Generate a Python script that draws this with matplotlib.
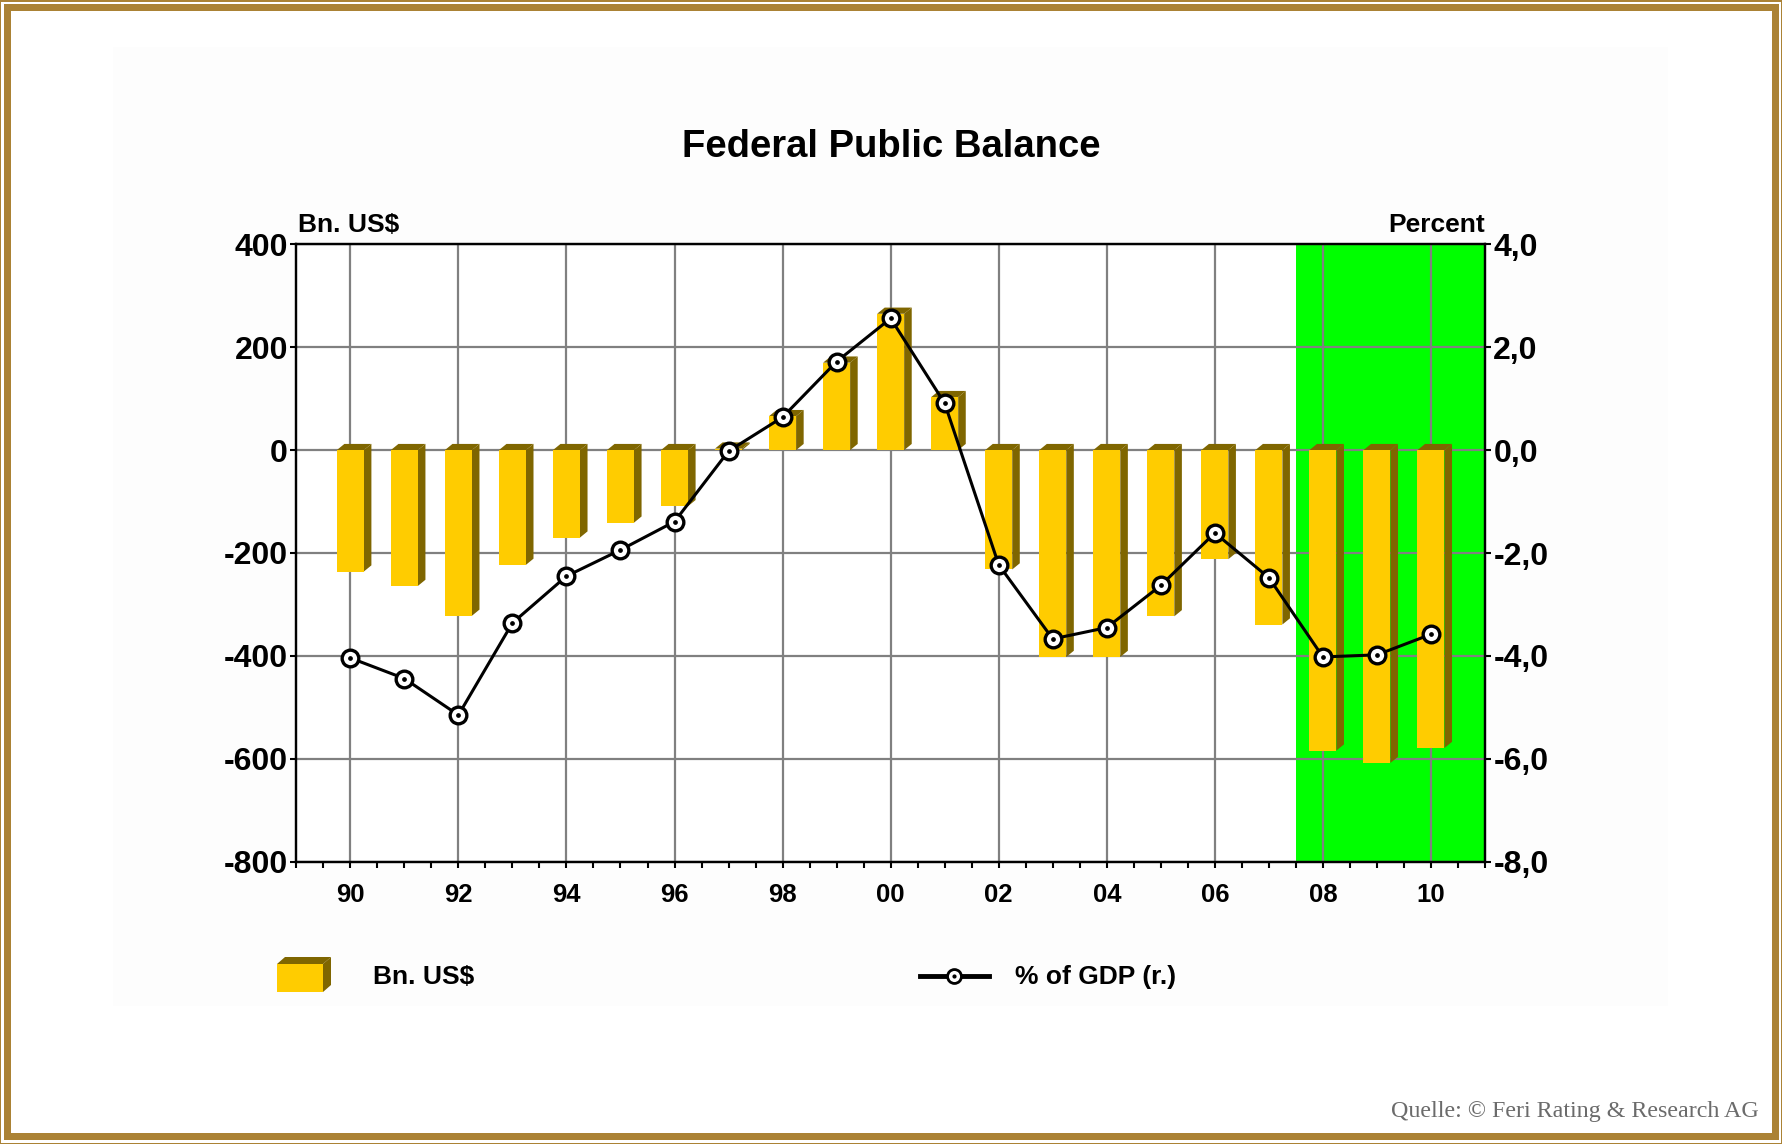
import matplotlib
matplotlib.use("Agg")
import matplotlib.pyplot as plt
from matplotlib.patches import Polygon, Rectangle
from matplotlib.lines import Line2D
from matplotlib.ticker import MultipleLocator, FixedLocator

plt.rcParams['font.family'] = ['Liberation Sans', 'DejaVu Sans']

# ---- data ----
years = list(range(1990, 2011))
bn_usd = [-236, -264, -322, -223, -170, -141, -109, 3, 66, 170, 265, 103,
          -232, -402, -402, -323, -212, -339, -584, -608, -579]
pct_gdp = [-4.04, -4.44, -5.15, -3.36, -2.45, -1.94, -1.39, -0.02, 0.64, 1.72,
           2.56, 0.91, -2.23, -3.67, -3.45, -2.63, -1.61, -2.48, -4.02, -3.98, -3.58]
left_ticks = [-800, -600, -400, -200, 0, 200, 400]
right_ticks = [-8.0, -6.0, -4.0, -2.0, 0.0, 2.0, 4.0]
forecast_start = 2007.5

title = "Federal Public Balance"
W, H = 1783, 1144

GOLD = '#AB8235'
YELLOW = '#FFCC00'
DARK = '#7F6600'
GREEN = '#00FF00'
GRID = '#808080'

fig = plt.figure(figsize=(W / 100, H / 100), dpi=100)
fig.patch.set_facecolor('white')


def fx(x):
    return x / W


def fy(y):
    return 1 - y / H


def frect(x0, y0, x1, y1, color, z=0):
    fig.patches.append(Rectangle((fx(x0), fy(y1)), fx(x1) - fx(x0), fy(y0) - fy(y1),
                                 transform=fig.transFigure, facecolor=color,
                                 edgecolor='none', zorder=z))


# border
frect(0, 0, W, H, GOLD, -10)
frect(1.5, 1.5, W - 1.5, H - 1.5, 'white', -9)
frect(4, 4, W - 4, H - 4, GOLD, -8)
frect(11, 11, W - 11, H - 11, 'white', -7)
frect(113, 47, 1668, 1006, '#FDFDFD', -6)

ax = fig.add_axes([fx(296.3), fy(861.7), fx(1485) - fx(296.3), fy(244.3) - fy(861.7)])
ax.set_facecolor('white')
xs = [y - 1990 for y in years]
ax.set_xlim(-1, 21)
ax.set_ylim(-800, 400)

ax.axvspan(forecast_start - 1990, 21, color=GREEN, zorder=0.2, lw=0)
ax.set_axisbelow(True)
ax.grid(True, which='major', color=GRID, lw=1.6)

bw = 0.5
dx, dy = 0.14, 12
ax.bar(xs, bn_usd, width=bw, color=YELLOW, zorder=3, lw=0)
for x, v in zip(xs, bn_usd):
    top = max(0, v)
    bot = min(0, v)
    r = x + bw / 2
    l = x - bw / 2
    ax.add_patch(Polygon([(r, top), (r + dx, top + dy), (r + dx, bot + dy), (r, bot)],
                         closed=True, facecolor=DARK, edgecolor='none', zorder=2.9))
    ax.add_patch(Polygon([(l, top), (l + dx, top + dy), (r + dx, top + dy), (r, top)],
                         closed=True, facecolor=DARK, edgecolor='none', zorder=2.9))

ax.set_yticks(left_ticks)
ax.set_yticklabels([str(t) for t in left_ticks], fontsize=23, fontweight='bold')
major_x = [x for x in xs if x % 2 == 0]
ax.xaxis.set_major_locator(FixedLocator(major_x))
ax.set_xticklabels([f"{(1990 + x) % 100:02d}" for x in major_x], fontsize=18.5,
                   fontweight='bold')
ax.xaxis.set_minor_locator(MultipleLocator(0.5))
ax.tick_params(axis='x', which='both', direction='out', length=4, width=1.5, pad=11)
ax.tick_params(axis='y', which='both', direction='out', length=4, width=1.5, pad=2)
for s in ax.spines.values():
    s.set_color('black')
    s.set_linewidth(1.6)

ax2 = ax.twinx()
ax2.set_ylim(-8, 4)
ax2.set_yticks(right_ticks)
ax2.set_yticklabels([f"{t:.1f}".replace('.', ',') for t in right_ticks],
                    fontsize=23, fontweight='bold')
ax2.tick_params(axis='y', direction='out', length=4, width=1.5, pad=2)
for s in ax2.spines.values():
    s.set_linewidth(1.6)
ax2.plot(xs, pct_gdp, color='black', lw=2.2, marker='o', ms=12, mfc='white',
         mec='black', mew=2.4, zorder=5)
ax2.plot(xs, pct_gdp, ls='none', marker='o', ms=2.4, color='black', zorder=6)

# texts
fig.text(fx(891), fy(147), title, ha='center', va='center', fontsize=27.5,
         fontweight='bold')
fig.text(fx(298), fy(232), "Bn. US$", ha='left', va='baseline', fontsize=19,
         fontweight='bold')
fig.text(fx(1485), fy(232), "Percent", ha='right', va='baseline', fontsize=19,
         fontweight='bold')

# legend: cube
cx0, cx1, cy0, cy1 = 277, 323, 964, 992
ox, oy = 8, 7
fig.patches.append(Polygon([(fx(cx0), fy(cy0)), (fx(cx0 + ox), fy(cy0 - oy)),
                            (fx(cx1 + ox), fy(cy0 - oy)), (fx(cx1), fy(cy0))],
                           closed=True, transform=fig.transFigure, facecolor=DARK,
                           edgecolor='none'))
fig.patches.append(Polygon([(fx(cx1), fy(cy0)), (fx(cx1 + ox), fy(cy0 - oy)),
                            (fx(cx1 + ox), fy(cy1 - oy)), (fx(cx1), fy(cy1))],
                           closed=True, transform=fig.transFigure, facecolor=DARK,
                           edgecolor='none'))
fig.patches.append(Rectangle((fx(cx0), fy(cy1)), fx(cx1) - fx(cx0), fy(cy0) - fy(cy1),
                             transform=fig.transFigure, facecolor=YELLOW, edgecolor='none'))
fig.text(fx(373), fy(977), "Bn. US$", ha='left', va='center', fontsize=19,
         fontweight='bold')

fig.lines.append(Line2D([fx(920), fx(989)], [fy(976), fy(976)], transform=fig.transFigure,
                        color='black', lw=3.5))
fig.lines.append(Line2D([fx(954.5)], [fy(976)], transform=fig.transFigure, ls='none',
                        marker='o', ms=10, mfc='white', mec='black', mew=2))
fig.lines.append(Line2D([fx(954.5)], [fy(976)], transform=fig.transFigure, ls='none',
                        marker='o', ms=2, color='black'))
fig.text(fx(1015), fy(977), "% of GDP (r.)", ha='left', va='center', fontsize=19,
         fontweight='bold')

fig.text(fx(1759), fy(1112), "Quelle: \u00a9 Feri Rating & Research AG", ha='right',
         va='center', fontsize=17.3, color='#6b6b6b',
         family=['Liberation Serif', 'DejaVu Serif'])

fig.savefig('out.png', dpi=100, facecolor='white')
